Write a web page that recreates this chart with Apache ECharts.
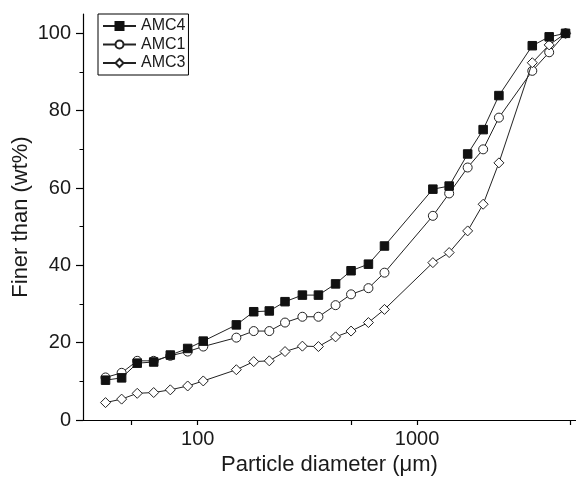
<!DOCTYPE html>
<html>
<head>
<meta charset="utf-8">
<script src="https://cdn.jsdelivr.net/npm/echarts@6/dist/echarts.min.js"></script>
<style>
html,body{margin:0;padding:0;background:#fff;}
#chart{width:576px;height:481px;}
</style>
</head>
<body>
<div id="chart"></div>
<script>
// Particle diameter (µm) – sieve sizes
const diameters = [38,45,53,63,75,90,106,150,180,212,250,300,355,425,500,600,710,1180,1400,1700,2000,2360,3350,4000,4750];
const amc4 = [10.3,10.9,14.7,15.0,16.8,18.5,20.4,24.6,28.0,28.2,30.6,32.3,32.3,35.2,38.6,40.3,45.0,59.7,60.5,68.8,75.1,83.9,96.8,99.1,100];
const amc1 = [11.0,12.2,15.3,15.3,16.6,17.7,19.0,21.3,23.0,23.0,25.2,26.7,26.7,29.7,32.5,34.1,38.1,52.8,58.6,65.3,70.0,78.2,90.3,95.1,100];
const amc3 = [4.5,5.4,6.9,7.1,7.8,8.8,10.1,13.0,15.1,15.3,17.7,19.1,19.0,21.5,23.0,25.2,28.6,40.7,43.3,48.9,55.8,66.5,92.4,97.0,100];
const xTicks = [50,100,500,1000,5000];
const xTickLabels = [100,1000];
const yTicks = [0,20,40,60,80,100];
const yMinorTicks = [10,30,50,70,90];

const FONT = '"Liberation Sans", Arial, sans-serif';
const INK = '#1a1a1a';

function pairs(ys){ return diameters.map((d,i)=>[d, ys[i]]); }

const chart = echarts.init(document.getElementById('chart'), null, {renderer:'canvas'});
chart.setOption({
  animation:false,
  backgroundColor:'#fff',
  grid:{left:83, right:0, top:14, bottom:61, containLabel:false, outerBoundsMode:'none'},
  legend:{
    data:['AMC4','AMC1','AMC3'],
    orient:'vertical',
    left:98, top:14,
    padding:[4,3,4,4],
    borderColor:'#000', borderWidth:1,
    itemWidth:33, itemHeight:10, itemGap:2.5,
    textStyle:{fontFamily:FONT, fontSize:16, color:INK}
  },
  xAxis:{
    type:'log', logBase:10, min:30, max:5300,
    axisLine:{lineStyle:{color:'#000', width:1.2}},
    axisTick:{show:true, inside:false, length:5, customValues:xTicks, lineStyle:{color:'#000', width:1.2}},
    axisLabel:{customValues:xTickLabels, formatter:function(v){return String(Math.round(v));}, fontFamily:FONT, fontSize:20, color:INK, margin:9},
    splitLine:{show:false}, minorTick:{show:false},
    name:'Particle diameter (\u03bcm)', nameLocation:'middle', nameGap:34, nameMoveOverlap:false,
    nameTextStyle:{fontFamily:FONT, fontSize:22, color:INK}
  },
  yAxis:[{
    type:'value', min:0, max:105,
    axisLine:{show:true, lineStyle:{color:'#000', width:1.2}},
    axisTick:{show:true, inside:false, length:7, customValues:yTicks, lineStyle:{color:'#000', width:1.2}},
    axisLabel:{customValues:yTicks, fontFamily:FONT, fontSize:20, color:INK, margin:12},
    splitLine:{show:false},
    name:'Finer than (wt%)', nameLocation:'middle', nameGap:51, nameRotate:90, nameMoveOverlap:false,
    nameTextStyle:{fontFamily:FONT, fontSize:22, color:INK}
  },{
    type:'value', min:0, max:105, position:'left',
    axisLine:{show:false},
    axisTick:{show:true, inside:false, length:3.5, customValues:yMinorTicks, lineStyle:{color:'#000', width:1}},
    axisLabel:{show:false}, splitLine:{show:false}
  }],
  series:[
    {name:'AMC4', type:'line', data:pairs(amc4), z:5,
      symbol:'rect', symbolSize:8.5, showAllSymbol:true,
      lineStyle:{color:'#222', width:1},
      itemStyle:{color:'#111', borderColor:'#111', borderWidth:1}},
    {name:'AMC1', type:'line', data:pairs(amc1), z:3,
      symbol:'circle', symbolSize:9, showAllSymbol:true,
      lineStyle:{color:'#222', width:1},
      itemStyle:{color:'#fff', borderColor:'#222', borderWidth:1}},
    {name:'AMC3', type:'line', data:pairs(amc3), z:4,
      symbol:'diamond', symbolSize:10, showAllSymbol:true,
      lineStyle:{color:'#222', width:1},
      itemStyle:{color:'#fff', borderColor:'#222', borderWidth:1}}
  ]
});
</script>
</body>
</html>
